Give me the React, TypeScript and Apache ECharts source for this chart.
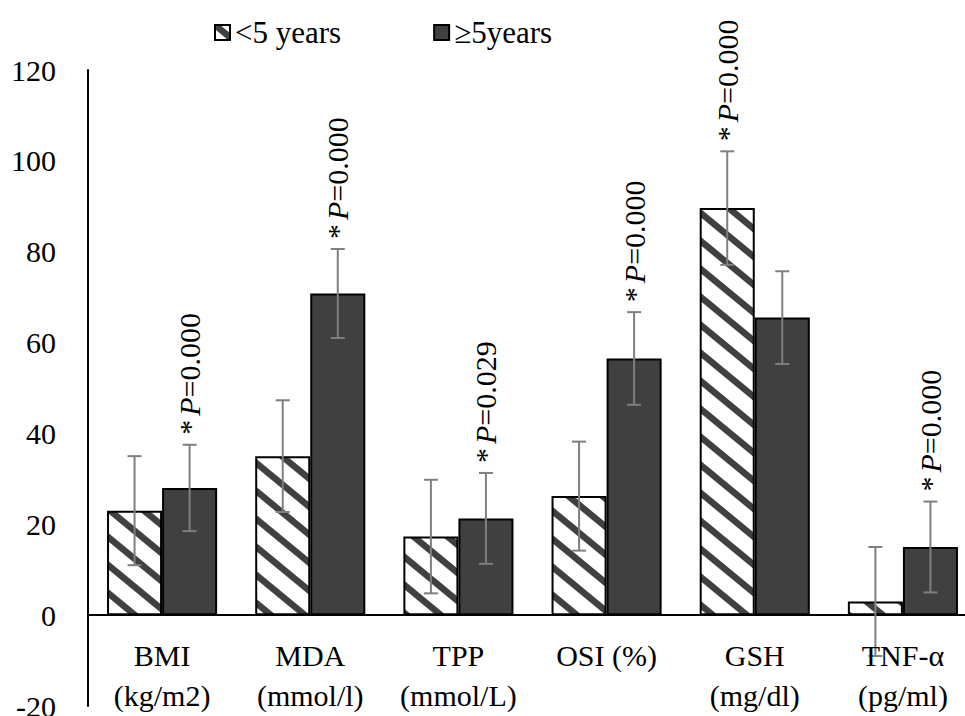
import React, { useEffect, useRef } from "react";
import * as echarts from "echarts";

const categories = ["BMI\n(kg/m2)", "MDA\n(mmol/l)", "TPP\n(mmol/L)", "OSI (%)", "GSH\n(mg/dl)", "TNF-α\n(pg/ml)"];
const seriesNames = ["<5 years", "≥5years"];
const under5 = [23, 35, 17.3, 26.2, 89.6, 3];
const under5Sd = [12, 12.3, 12.5, 12, 12.5, 12];
const over5 = [28, 70.8, 21.3, 56.5, 65.5, 15];
const over5Sd = [9.5, 9.8, 10, 10.2, 10.2, 10];
const pValues = ["0.000", "0.000", "0.029", "0.000", "0.000", "0.000"];
const pOnGroup = [1, 1, 1, 1, 0, 1];
const yMin = -20;
const yMax = 120;
const yInterval = 20;

const FONT = "Times New Roman";
const DARK = "#404040";
const ERR = "#7f7f7f";
const CAT_GAP = 0.257;

const TW = 34;
const TH = 28;
const hatchSvg =
  "<svg xmlns='http://www.w3.org/2000/svg' width='" + TW + "' height='" + TH + "'>" +
  "<rect width='" + TW + "' height='" + TH + "' fill='white'/>" +
  "<g stroke='" + DARK + "' stroke-width='6.5'>" +
  "<line x1='" + -TW + "' y1='" + -TH + "' x2='" + 2 * TW + "' y2='" + 2 * TH + "'/>" +
  "<line x1='" + -TW + "' y1='0' x2='" + TW + "' y2='" + 2 * TH + "'/>" +
  "<line x1='0' y1='" + -TH + "' x2='" + 2 * TW + "' y2='" + TH + "'/>" +
  "</g></svg>";
const hatchUrl = "data:image/svg+xml;charset=utf-8," + encodeURIComponent(hatchSvg);

function makeErrorSeries(group: number, values: number[], sds: number[]) {
  const data = values.map((v, i) => [i, v, sds[i]]);
  return {
    type: "custom",
    z: 5,
    silent: true,
    clip: false,
    encode: { x: 0, y: 1 },
    data,
    renderItem: (params: any, api: any) => {
      const idx = api.value(0);
      const val = api.value(1);
      const sd = api.value(2);
      const catW = api.size([1, 0])[0];
      const bw = (catW * (1 - CAT_GAP)) / 2;
      const off = group === 0 ? -bw / 2 : bw / 2;
      const top = api.coord([idx, val + sd]);
      const bot = api.coord([idx, val - sd]);
      const x = top[0] + off;
      const cap = 7;
      const ls = { stroke: ERR, lineWidth: 2 };
      const children: any[] = [
        { type: "line", shape: { x1: x, y1: top[1], x2: x, y2: bot[1] }, style: ls },
        { type: "line", shape: { x1: x - cap, y1: top[1], x2: x + cap, y2: top[1] }, style: ls },
        { type: "line", shape: { x1: x - cap, y1: bot[1], x2: x + cap, y2: bot[1] }, style: ls },
      ];
      if (pOnGroup[idx] === group) {
        children.push({
          type: "text",
          x: x,
          y: top[1] - 10,
          rotation: Math.PI / 2,
          style: {
            text: "{a|*}{b|P}{a|=" + pValues[idx] + "}",
            align: "left",
            verticalAlign: "middle",
            fill: "#000",
            rich: {
              a: { fontSize: 30, fontFamily: FONT, fill: "#000" },
              b: { fontSize: 30, fontFamily: FONT, fontStyle: "italic", fill: "#000", padding: [0, 0, 0, 4] },
            },
          },
        });
      }
      return { type: "group", children };
    },
  };
}

const labelSeries = {
  type: "custom",
  z: 5,
  silent: true,
  clip: false,
  encode: { x: 0, y: 1 },
  data: categories.map((c, i) => [i, 0]),
  renderItem: (params: any, api: any) => {
    const idx = api.value(0);
    const pt = api.coord([idx, 0]);
    return {
      type: "text",
      x: pt[0],
      y: pt[1] + 20,
      style: {
        text: categories[idx],
        align: "center",
        verticalAlign: "top",
        fontSize: 30,
        fontFamily: FONT,
        lineHeight: 40,
        fill: "#000",
      },
    };
  },
};

export default function App() {
  const ref = useRef<HTMLDivElement>(null);
  useEffect(() => {
    document.body.style.margin = "0";
    if (!ref.current) return;
    const chart = echarts.init(ref.current, null, { renderer: "svg" });
    const hatch = { image: hatchUrl, repeat: "repeat", imageWidth: TW, imageHeight: TH };
    chart.setOption({
      animation: false,
      backgroundColor: "#fff",
      textStyle: { fontFamily: FONT },
      legend: {
        left: 209,
        top: 12,
        icon: "rect",
        itemWidth: 15,
        itemHeight: 15,
        itemGap: 92,
        textStyle: { fontSize: 31, fontFamily: FONT, color: "#000" },
        data: seriesNames,
      },
      grid: { left: 88, top: 70, width: 889, height: 636, outerBoundsMode: "none", containLabel: false },
      xAxis: {
        type: "category",
        data: categories,
        axisLine: { onZero: true, lineStyle: { color: "#000", width: 2 } },
        axisTick: { show: false },
        axisLabel: { show: false },
      },
      yAxis: {
        type: "value",
        min: yMin,
        max: yMax,
        interval: yInterval,
        axisLine: { show: true, lineStyle: { color: "#000", width: 2 } },
        axisTick: { show: false },
        splitLine: { show: false },
        axisLabel: { fontSize: 30, margin: 32, color: "#000", fontFamily: FONT },
      },
      series: [
        {
          name: seriesNames[0],
          type: "bar",
          data: under5,
          barGap: "0%",
          barCategoryGap: CAT_GAP * 100 + "%",
          itemStyle: { color: hatch, borderColor: "#000", borderWidth: 2 },
        },
        {
          name: seriesNames[1],
          type: "bar",
          data: over5,
          barGap: "0%",
          barCategoryGap: CAT_GAP * 100 + "%",
          itemStyle: { color: DARK, borderColor: "#000", borderWidth: 2 },
        },
        makeErrorSeries(0, under5, under5Sd),
        makeErrorSeries(1, over5, over5Sd),
        labelSeries,
      ],
    });
    return () => chart.dispose();
  }, []);
  return <div ref={ref} style={{ width: 965, height: 716 }} />;
}
